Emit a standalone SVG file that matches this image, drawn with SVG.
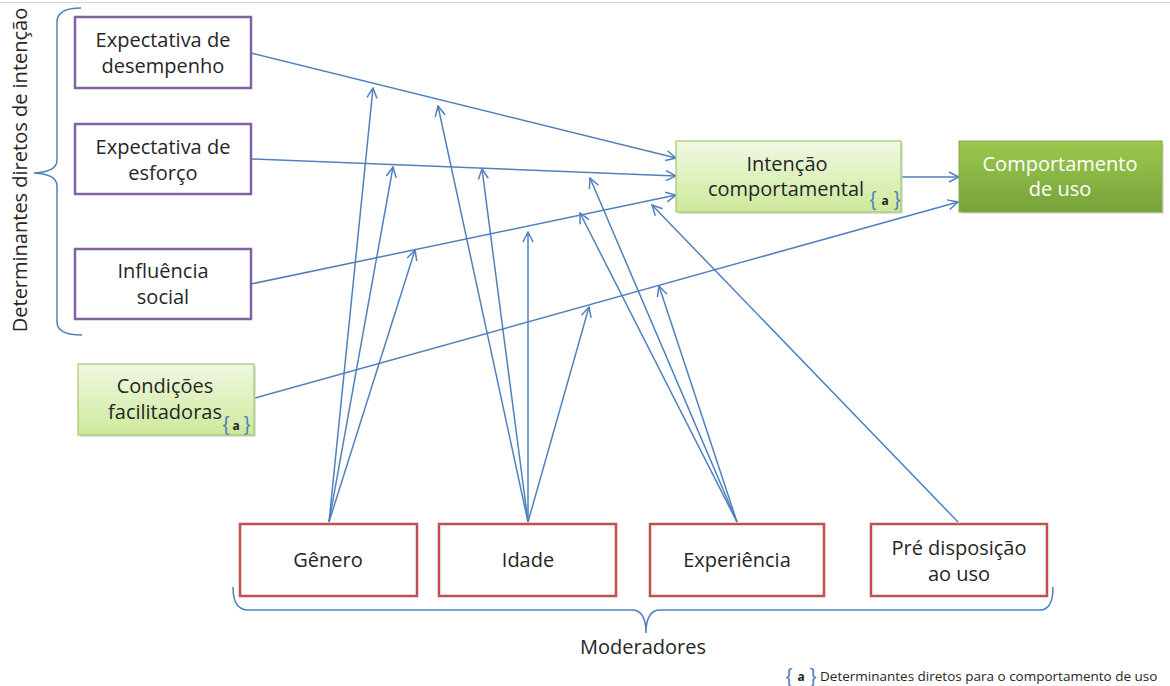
<svg xmlns="http://www.w3.org/2000/svg" width="1170" height="686" viewBox="0 0 1170 686">
<style>
.t{font-family:"Open Sans","Liberation Sans",sans-serif;font-size:20px;fill:#262626;text-anchor:middle}
.w{fill:#ffffff}
.pu{fill:#ffffff;stroke:#8064A2;stroke-width:2.5}
.rd{fill:#ffffff;stroke:#C0504D;stroke-width:2.5}
.lg{fill:url(#gl);stroke:#A6C76A;stroke-width:1.2}
.dg{fill:url(#gd);stroke:#86A84A;stroke-width:1}
.c{stroke:#4F81BD;stroke-width:1.5;fill:none}
.br{stroke:#4F81BD;stroke-width:1.5;fill:none}
.sb{font-family:"Open Sans","Liberation Sans",sans-serif;font-size:12px;text-anchor:middle}
.bb{font-family:"Liberation Sans","Open Sans",sans-serif;font-size:20px;text-anchor:middle;fill:#4F81BD}
</style>
<defs>
<linearGradient id="gl" x1="0" y1="0" x2="0" y2="1"><stop offset="0" stop-color="#F0F9E2"/><stop offset="1" stop-color="#CDE99B"/></linearGradient>
<linearGradient id="gd" x1="0" y1="0" x2="0" y2="1"><stop offset="0" stop-color="#9CC84E"/><stop offset="1" stop-color="#76A239"/></linearGradient>
<marker id="a" viewBox="0 0 12 12" refX="11" refY="6" markerWidth="12" markerHeight="12" markerUnits="userSpaceOnUse" orient="auto"><path d="M1,1 L11,6 L1,11" fill="none" stroke="#4F81BD" stroke-width="1.5"/></marker>
</defs>
<rect width="1170" height="686" fill="#ffffff"/>
<line x1="0" y1="2.5" x2="1170" y2="2.5" stroke="#D4D4D4" stroke-width="1"/>

<g id="connectors">
<line class="c" x1="251" y1="53" x2="676" y2="158" marker-end="url(#a)"/>
<line class="c" x1="251" y1="159" x2="676" y2="176" marker-end="url(#a)"/>
<line class="c" x1="251" y1="284" x2="676" y2="195" marker-end="url(#a)"/>
<line class="c" x1="255" y1="398" x2="958" y2="202" marker-end="url(#a)"/>
<line class="c" x1="902" y1="177" x2="959" y2="177" marker-end="url(#a)"/>
<line class="c" x1="329" y1="522" x2="373" y2="88" marker-end="url(#a)"/>
<line class="c" x1="329" y1="522" x2="393" y2="167" marker-end="url(#a)"/>
<line class="c" x1="329" y1="522" x2="415" y2="250" marker-end="url(#a)"/>
<line class="c" x1="528" y1="522" x2="438" y2="106" marker-end="url(#a)"/>
<line class="c" x1="528" y1="522" x2="482" y2="169" marker-end="url(#a)"/>
<line class="c" x1="528" y1="522" x2="528" y2="232" marker-end="url(#a)"/>
<line class="c" x1="528" y1="522" x2="589" y2="307" marker-end="url(#a)"/>
<line class="c" x1="737" y1="522" x2="590" y2="178" marker-end="url(#a)"/>
<line class="c" x1="737" y1="522" x2="580" y2="213" marker-end="url(#a)"/>
<line class="c" x1="737" y1="522" x2="659" y2="286" marker-end="url(#a)"/>
<line class="c" x1="958" y1="522" x2="652" y2="205" marker-end="url(#a)"/>
</g>

<g id="brace-left">
<path class="br" d="M81,8 Q57,8 57,22 L57,160 Q57,172 34,173 Q57,174 57,186 L57,322 Q57,335 82,335"/>
<text class="t" transform="translate(27,170) rotate(-90)">Determinantes diretos de intenção</text>
</g>

<g id="n-desempenho">
<rect class="pu" x="75" y="17" width="176" height="71"/>
<text class="t" x="163" y="47">Expectativa de</text>
<text class="t" x="163" y="73">desempenho</text>
</g>
<g id="n-esforco">
<rect class="pu" x="75" y="124" width="176" height="70"/>
<text class="t" x="163" y="154">Expectativa de</text>
<text class="t" x="163" y="180">esforço</text>
</g>
<g id="n-social">
<rect class="pu" x="75" y="249" width="176" height="70"/>
<text class="t" x="163" y="278">Influência</text>
<text class="t" x="163" y="304">social</text>
</g>
<g id="n-condicoes">
<rect x="80" y="366" width="176" height="71" fill="#BFBFBF" opacity="0.5"/>
<rect class="lg" x="78" y="364" width="176" height="71"/>
<text class="t" x="165" y="393">Condições</text>
<text class="t" x="165" y="419">facilitadoras</text>
<text class="bb" x="226" y="431">{</text>
<text class="sb" x="236" y="430" fill="#262626" font-weight="bold">a</text>
<text class="bb" x="247" y="431">}</text>
</g>
<g id="n-intencao">
<rect x="678" y="143" width="225" height="71" fill="#BFBFBF" opacity="0.5"/>
<rect class="lg" x="676" y="141" width="225" height="71"/>
<text class="t" x="787" y="171">Intenção</text>
<text class="t" x="786" y="196">comportamental</text>
<text class="bb" x="873" y="206">{</text>
<text class="sb" x="885" y="205" fill="#262626" font-weight="bold">a</text>
<text class="bb" x="897" y="206">}</text>
</g>
<g id="n-comportamento">
<rect x="961" y="143" width="203" height="71" fill="#BFBFBF" opacity="0.5"/>
<rect class="dg" x="959" y="141" width="203" height="71"/>
<text class="t w" x="1060" y="171">Comportamento</text>
<text class="t w" x="1060" y="196">de uso</text>
</g>

<g id="n-genero">
<rect class="rd" x="240" y="524" width="177" height="72"/>
<text class="t" x="328" y="567">Gênero</text>
</g>
<g id="n-idade">
<rect class="rd" x="439" y="524" width="177" height="72"/>
<text class="t" x="528" y="567">Idade</text>
</g>
<g id="n-experiencia">
<rect class="rd" x="650" y="524" width="174" height="72"/>
<text class="t" x="737" y="567">Experiência</text>
</g>
<g id="n-predisposicao">
<rect class="rd" x="871" y="524" width="176" height="72"/>
<text class="t" x="959" y="555">Pré disposição</text>
<text class="t" x="959" y="581">ao uso</text>
</g>

<g id="brace-bottom">
<path class="br" d="M233,587 Q233,610 248,610 L632,610 Q646,610 646,633 Q646,610 660,610 L1040,610 Q1053,610 1053,587"/>
<text class="t" x="643" y="654">Moderadores</text>
</g>

<g id="legend">
<text class="bb" x="789" y="683">{</text>
<text class="sb" x="801" y="681" fill="#262626" font-weight="bold" font-size="14">a</text>
<text class="bb" x="813" y="683">}</text>
<text x="820" y="681" font-family="Open Sans, Liberation Sans, sans-serif" font-size="13.5" fill="#262626">Determinantes diretos para o comportamento de uso</text>
</g>
</svg>
